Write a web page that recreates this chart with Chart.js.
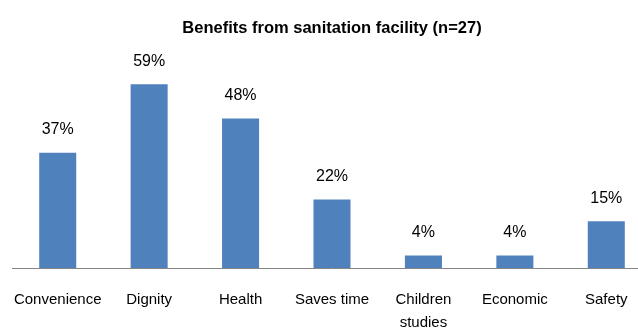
<!DOCTYPE html>
<html>
<head>
<meta charset="utf-8">
<script src="https://cdn.jsdelivr.net/npm/chart.js@4"></script>
<style>
  html, body { margin: 0; padding: 0; background: #fff; overflow: hidden; }
  #wrap { width: 664px; height: 334px; }
</style>
</head>
<body>
<div id="wrap"><canvas id="chartBenefits"></canvas></div>
<script>
// datos
const categories = ['Convenience', 'Dignity', 'Health', 'Saves time', ['Children', 'studies'], 'Economic', 'Safety'];
const percentages = [37, 59, 48, 22, 4, 4, 15];
const chartTitle = 'Benefits from sanitation facility (n=27)';

const FONT = "'Liberation Sans', Arial, sans-serif";

// etiquetas de valor encima de cada barra
const barLabels = {
    id: 'barLabels',
    afterDatasetsDraw(chart) {
        const ctx = chart.ctx;
        const meta = chart.getDatasetMeta(0);
        ctx.save();
        ctx.font = '16px ' + FONT;
        ctx.fillStyle = '#000';
        ctx.textAlign = 'center';
        ctx.textBaseline = 'middle';
        meta.data.forEach((bar, i) => {
            ctx.fillText(percentages[i] + '%', bar.x, bar.y - 23);
        });
        ctx.restore();
    }
};

new Chart(document.getElementById('chartBenefits'), {
    type: 'bar',
    data: {
        labels: categories,
        datasets: [{
            data: percentages,
            backgroundColor: '#4F81BD',
            barPercentage: 0.405,
            categoryPercentage: 1
        }]
    },
    options: {
        responsive: true,
        maintainAspectRatio: false,
        animation: false,
        layout: { padding: { left: 12, right: 12, top: 0, bottom: -21 } },
        plugins: {
            legend: { display: false },
            tooltip: { enabled: false },
            title: {
                display: true,
                text: chartTitle,
                color: '#000',
                font: { family: FONT, size: 16.5, weight: 'bold', lineHeight: 1.2 },
                padding: { top: 19, bottom: 2 }
            }
        },
        scales: {
            x: {
                grid: { display: false, drawTicks: false },
                border: { display: true, color: '#868686', width: 1 },
                ticks: {
                    color: '#000',
                    padding: 21,
                    maxRotation: 0,
                    autoSkip: false,
                    font: { family: FONT, size: 15, lineHeight: 1.5 }
                },
                // sin relleno extra a los lados por las etiquetas
                afterFit(scale) {
                    scale.paddingLeft = 0;
                    scale.paddingRight = 0;
                }
            },
            y: {
                display: false,
                min: 0,
                max: 73
            }
        }
    },
    plugins: [barLabels]
});
</script>
</body>
</html>
